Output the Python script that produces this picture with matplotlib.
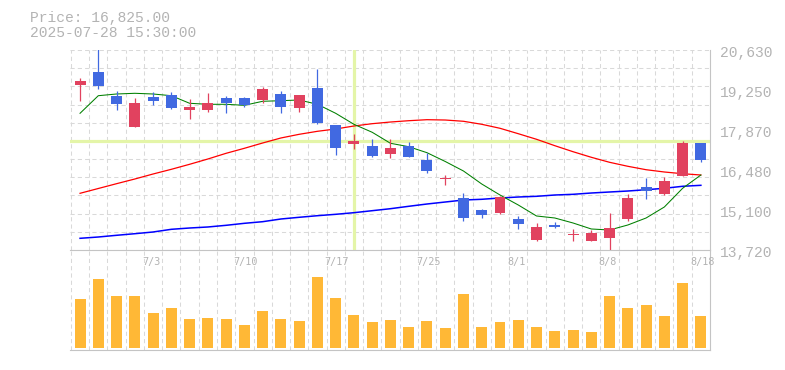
import matplotlib.pyplot as plt
from matplotlib.transforms import offset_copy, blended_transform_factory
import numpy as np

# daily candles 6/27 .. 8/18 (35 trading days)
opens  = [19420, 19870, 19040, 17980, 19005, 19075, 18565, 18555, 18970, 18970,
          18900, 19110, 18625, 19315, 18040, 17380, 17310, 17035, 17310, 16830,
          16160, 15515, 15100, 15000, 14790, 14065, 14585, 14225, 14030, 14135,
          14790, 15895, 15655, 16275, 17415]
highs  = [19675, 20700, 19215, 18970, 19170, 19180, 18940, 19145, 19040, 18990,
          19350, 19215, 19075, 19975, 18040, 17730, 17555, 17555, 17450, 17070,
          16310, 15690, 15135, 15585, 14895, 14655, 14690, 14445, 14410, 15000,
          15655, 16205, 16240, 17485, 17415]
lows   = [18870, 19290, 18570, 17980, 18730, 18590, 18245, 18500, 18465, 18670,
          18810, 18455, 18500, 18075, 17000, 17210, 16935, 16900, 16935, 16380,
          15965, 14720, 14825, 14965, 14445, 14030, 14480, 14030, 14030, 13720,
          14720, 15480, 15620, 16275, 16760]
closes = [19560, 19385, 18765, 18800, 18880, 18625, 18670, 18800, 18810, 18730,
          19280, 18660, 19075, 18105, 17245, 17485, 16970, 17245, 16935, 16450,
          16190, 14825, 14930, 15550, 14620, 14515, 14515, 14255, 14310, 14480,
          15515, 15760, 16105, 17415, 16825]
volumes = [487, 687, 517, 517, 347, 397, 287, 297, 287, 227,
           367, 287, 267, 710, 497, 327, 257, 277, 207, 267,
           197, 537, 207, 257, 277, 207, 167, 177, 157, 517,
           397, 427, 317, 647, 317]

# moving averages
ma_short = [18443, 19051, 19110, 19134, 19110, 19051, 18789, 18754, 18754, 18719,
            18858, 18878, 18903, 18754, 18443, 18063, 17787, 17407, 17289, 17082,
            16778, 16449, 16000, 15620, 15275, 14895, 14826, 14653, 14446, 14411,
            14584, 14826, 15206, 15852, 16311]
ma_mid = [15679, 15845, 16011, 16173, 16346, 16508, 16681, 16864, 17061, 17234,
          17417, 17590, 17717, 17821, 17901, 18004, 18084, 18142, 18187, 18222,
          18211, 18167, 18063, 17925, 17738, 17545, 17324, 17116, 16923, 16750,
          16612, 16494, 16415, 16356, 16311]
ma_long = [14124, 14169, 14228, 14283, 14342, 14435, 14480, 14515, 14573, 14642,
           14698, 14791, 14850, 14905, 14953, 15009, 15078, 15147, 15230, 15309,
           15378, 15447, 15472, 15517, 15551, 15575, 15620, 15644, 15689, 15724,
           15758, 15803, 15852, 15921, 15955]

date_pos = [4, 9, 14, 19, 24, 29, 34]
date_labels = ["7/3", "7/10", "7/17", "7/25", "8/1", "8/8", "8/18"]
price_min, price_max = 13720, 20630
price_labels = ["13,720", "15,100", "16,480", "17,870", "19,250", "20,630"]
cursor_index = 15
cursor_price = 17470

UP = '#e1425f'
DOWN = '#4169e1'
GRID = '#d9d9d9'
BORDER = '#c4c4c4'
TEXT = '#b3b3b3'
CURSOR = '#e4f5a8'

fig = plt.figure(figsize=(7.85, 3.7), dpi=100)
ax = fig.add_axes([70/785, 120/370, 640/785, 200/370])
axv = fig.add_axes([70/785, 20/370, 640/785, 100/370])

x = np.arange(len(opens))
o = np.array(opens)
c = np.array(closes)
cols = [UP if cc >= oo else DOWN for oo, cc in zip(o, c)]

for a in (ax, axv):
    a.set_xlim(-0.55, 34.5)
    a.set_xticks(x - 0.5)
    a.tick_params(length=0, labelbottom=False, labelleft=False)
    a.grid(axis='x', color=GRID, lw=0.75, linestyle=(0, (4, 3)))
    for s in a.spines.values():
        s.set_visible(False)
    a.set_axisbelow(True)

# price panel
ax.set_ylim(price_min, price_max)
ax.set_yticks(np.linspace(price_min, price_max, 12))
ax.grid(axis='y', color=GRID, lw=0.75, linestyle=(0, (4, 3)))
ax.spines['right'].set_visible(True)
ax.spines['right'].set_color(BORDER)

ax.axvline(cursor_index, color=CURSOR, lw=2.3, zorder=1)
ax.axhline(cursor_price, color=CURSOR, lw=2.3, zorder=1)

ax.plot(x, ma_long, color='#0000ff', lw=1.1, zorder=2)
ax.plot(x, ma_mid, color='#ff0000', lw=0.9, zorder=2)
ax.plot(x, ma_short, color='#008000', lw=0.75, zorder=2)

ax.vlines(x, lows, highs, colors=cols, lw=0.9, zorder=3)
body_h = np.maximum(np.abs(c - o), 60)
ax.bar(x, body_h, bottom=np.minimum(o, c), width=0.6, color=cols, zorder=4)

ytrans = offset_copy(ax.get_yaxis_transform(), fig=fig, x=10, y=-3.3, units='dots')
for p, lab in zip(np.linspace(price_min, price_max, 6), price_labels):
    ax.text(1, p, lab, transform=ytrans, ha='left', va='center',
            family='Liberation Mono', fontsize=10.5, color=TEXT)

# volume panel
axv.bar(x, volumes, width=0.6, color='#ffb836', zorder=2)
axv.set_ylim(-23, 977)
for side in ('top', 'bottom', 'right'):
    axv.spines[side].set_visible(True)
    axv.spines[side].set_color(BORDER)

dtrans = blended_transform_factory(axv.transData, axv.transAxes)
for p, lab in zip(date_pos, date_labels):
    axv.text(p - 0.6, 0.88, lab, transform=dtrans, ha='left', va='center',
             family='DejaVu Sans Mono', fontsize=7.3, color=TEXT)

fig.text(30/785, 1 - 18/370, "Price: 16,825.00", ha='left', va='center',
         family='Liberation Mono', fontsize=10.5, color=TEXT)
fig.text(30/785, 1 - 33/370, "2025-07-28 15:30:00", ha='left', va='center',
         family='Liberation Mono', fontsize=10.5, color=TEXT)

fig.savefig('out.png', dpi=100)
